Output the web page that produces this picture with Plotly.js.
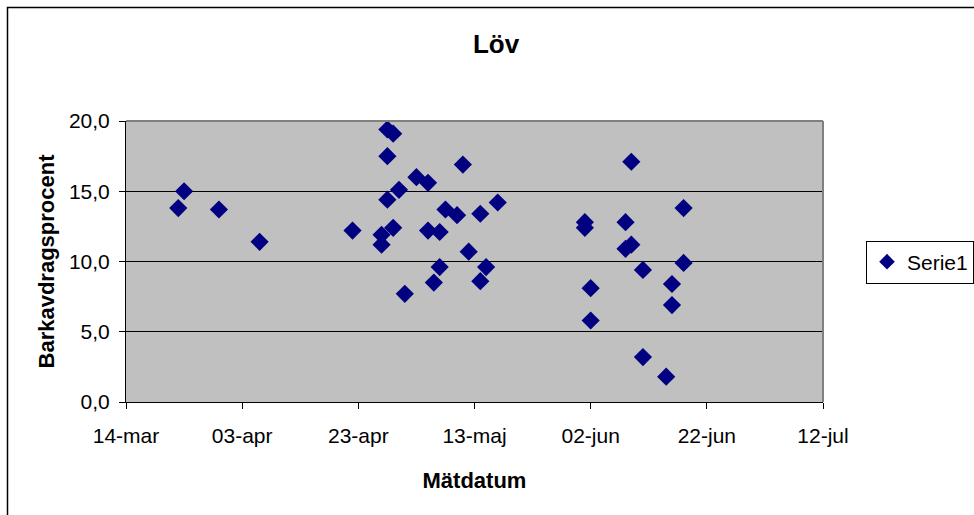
<!DOCTYPE html>
<html>
<head>
<meta charset="utf-8">
<script src="https://cdn.plot.ly/plotly-3.0.1.min.js"></script>
<style>
  html, body { margin: 0; padding: 0; background: #fff; }
  #chart { width: 974px; height: 515px; }
</style>
</head>
<body>
<div id="chart"></div>
<script>
// Data
const seriesName = 'Serie1';
const matDatum = [
  '2007-03-23','2007-03-24','2007-03-30','2007-04-06','2007-04-22',
  '2007-04-27','2007-04-27','2007-04-28','2007-04-29','2007-04-28',
  '2007-04-28','2007-04-29','2007-04-30','2007-05-01','2007-05-03',
  '2007-05-05','2007-05-05','2007-05-06','2007-05-07','2007-05-07',
  '2007-05-08','2007-05-10','2007-05-11','2007-05-12','2007-05-14',
  '2007-05-14','2007-05-15','2007-05-17','2007-06-01','2007-06-01',
  '2007-06-02','2007-06-02','2007-06-08','2007-06-08','2007-06-09',
  '2007-06-09','2007-06-11','2007-06-11','2007-06-15','2007-06-16',
  '2007-06-16','2007-06-18','2007-06-18'
];
const barkavdrag = [
  13.8, 15.0, 13.7, 11.4, 12.2,
  11.9, 11.2, 19.4, 19.1, 17.5,
  14.4, 12.4, 15.1, 7.7, 16.0,
  15.6, 12.2, 8.5, 12.1, 9.6,
  13.7, 13.3, 16.9, 10.7, 13.4,
  8.6, 9.6, 14.2, 12.8, 12.4,
  8.1, 5.8, 12.8, 10.9, 17.1,
  11.2, 9.4, 3.2, 1.8, 8.4,
  6.9, 13.8, 9.9
];
const tickDates = ['2007-03-14','2007-04-03','2007-04-23','2007-05-13','2007-06-02','2007-06-22','2007-07-12'];
const tickLabels = ['14-mar','03-apr','23-apr','13-maj','02-jun','22-jun','12-jul'];
const yTicks = [0, 5, 10, 15, 20];

const W = 974, H = 515;
const m = { l: 126, r: 151, t: 121, b: 113 };
const pw = W - m.l - m.r, ph = H - m.t - m.b;
const px2x = p => (p - m.l) / pw;
const py2y = p => (H - m.b - p) / ph;

const font = 'Liberation Sans, Arial, sans-serif';

const trace = {
  type: 'scatter',
  mode: 'markers',
  name: seriesName,
  x: matDatum,
  y: barkavdrag,
  marker: { symbol: 'diamond', size: 14, color: '#000080', line: { width: 0 } },
  showlegend: true
};

const layout = {
  width: W, height: H,
  margin: m,
  paper_bgcolor: '#ffffff',
  plot_bgcolor: '#c0c0c0',
  separators: ',.',
  font: { family: font, size: 21, color: '#000' },
  title: {
    text: '<b>Löv</b>',
    font: { family: font, size: 26, color: '#000' },
    x: 496 / W, xref: 'container', xanchor: 'center',
    y: 1 - 44 / H, yref: 'container', yanchor: 'middle'
  },
  xaxis: {
    type: 'date',
    range: [tickDates[0], tickDates[tickDates.length - 1]],
    tickmode: 'array',
    tickvals: tickDates,
    ticktext: tickLabels,
    ticks: 'outside', ticklen: 6, tickwidth: 1, tickcolor: '#000',
    ticklabelstandoff: 9,
    showline: true, linecolor: '#000', linewidth: 1,
    showgrid: false, zeroline: false,
    tickfont: { family: font, size: 21, color: '#000' },
    title: { text: '<b>Mätdatum</b>', font: { family: font, size: 22, color: '#000' }, standoff: 26 },
    automargin: false
  },
  yaxis: {
    range: [0, 20],
    tickmode: 'array',
    tickvals: yTicks,
    tickformat: '.1f',
    ticks: 'outside', ticklen: 6, tickwidth: 1, tickcolor: '#000',
    ticklabelstandoff: 5,
    showline: true, linecolor: '#000', linewidth: 1,
    showgrid: true, gridcolor: '#000', gridwidth: 1,
    zeroline: false,
    tickfont: { family: font, size: 21, color: '#000' },
    title: { text: '<b>Barkavdragsprocent</b>', font: { family: font, size: 22, color: '#000' }, standoff: 8 },
    automargin: false
  },
  legend: {
    xref: 'container', yref: 'container',
    x: 866 / W, xanchor: 'left',
    y: 1 - 262 / H, yanchor: 'middle',
    bgcolor: '#ffffff',
    bordercolor: '#000', borderwidth: 1,
    font: { family: font, size: 21, color: '#000' },
    itemsizing: 'constant'
  },
  shapes: [
    { type: 'line', xref: 'paper', yref: 'paper', x0: 0, x1: 1, y0: 1, y1: 1, line: { color: '#808080', width: 2 } },
    { type: 'line', xref: 'paper', yref: 'paper', x0: 1, x1: 1, y0: 0, y1: 1, line: { color: '#808080', width: 2 } },
    { type: 'rect', xref: 'paper', yref: 'paper', x0: px2x(7.5), x1: px2x(W + 20), y0: py2y(H + 20), y1: py2y(7.5), line: { color: '#000', width: 1.5 }, layer: 'below' }
  ]
};

Plotly.newPlot('chart', [trace], layout, { staticPlot: true, displayModeBar: false });
</script>
</body>
</html>
